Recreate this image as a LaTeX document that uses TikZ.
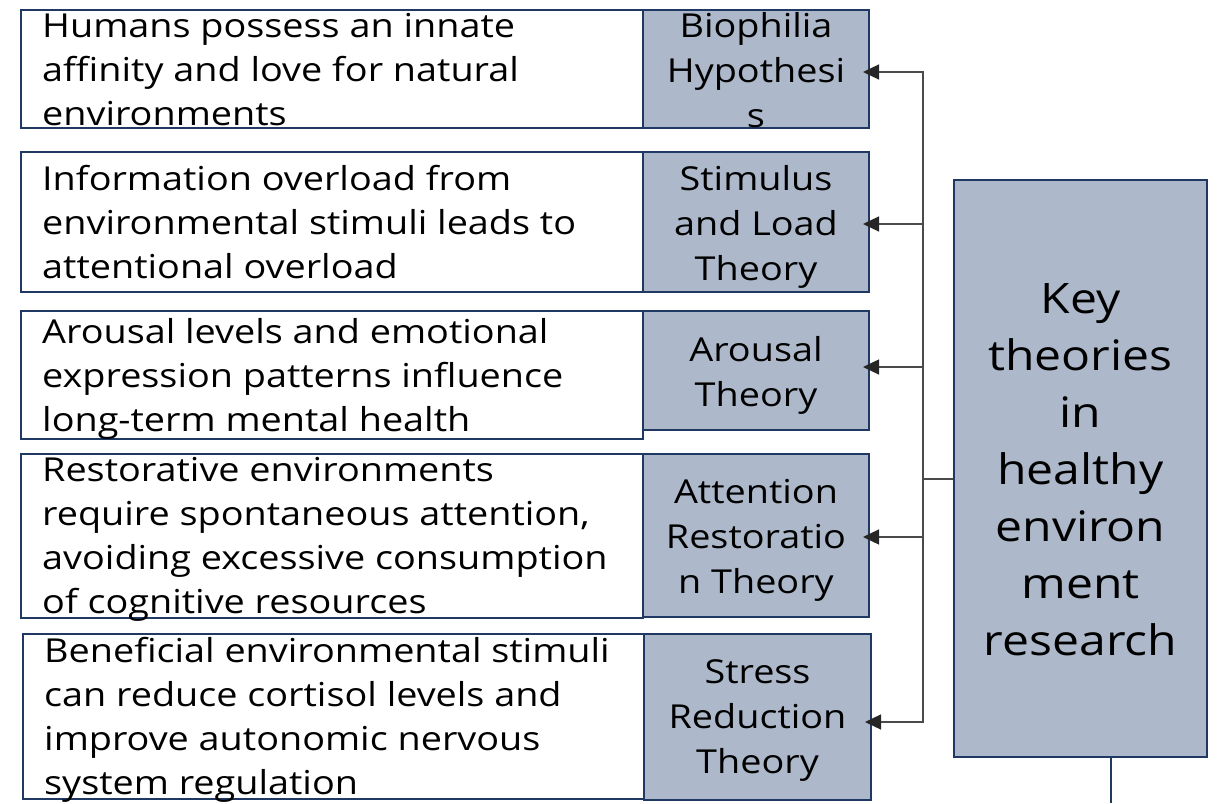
\documentclass[tikz,border=0pt]{standalone}
\usepackage{fontspec}
\setmainfont{Open Sans}[FakeStretch=1.145]
\usetikzlibrary{arrows.meta}
\definecolor{boxfill}{HTML}{ADB9CA}
\definecolor{boxline}{HTML}{1F3864}
\definecolor{linkgray}{HTML}{4A4A4A}
\definecolor{tipgray}{HTML}{262626}
\tikzset{
  descbox/.style={draw=boxline, line width=2pt, fill=white, inner sep=0pt},
  theorybox/.style={draw=boxline, line width=2pt, fill=boxfill, inner sep=0pt},
  desctext/.style={anchor=west, align=left, inner sep=0pt, font=\fontsize{33}{44}\selectfont},
  theorytext/.style={align=center, inner sep=0pt, font=\fontsize{33}{45}\selectfont},
  keytext/.style={align=center, inner sep=0pt, font=\fontsize{42}{57}\selectfont},
  trunk/.style={draw=linkgray, line width=1.3pt},
  link/.style={trunk, -{Triangle[length=16pt,width=15pt,color=tipgray]}, shorten >=-7pt},
}
\begin{document}
\begin{tikzpicture}[x=1pt,y=-1pt]
\useasboundingbox (0,0) rectangle (1217,803);

% description boxes
\node[descbox, minimum width=622pt, minimum height=118pt] (d1) at (332,69) {};
\node[descbox, minimum width=622pt, minimum height=140pt] (d2) at (332,222) {};
\node[descbox, minimum width=622pt, minimum height=128pt] (d3) at (332,375) {};
\node[descbox, minimum width=622pt, minimum height=164pt] (d4) at (332,536) {};
\node[descbox, minimum width=621pt, minimum height=165pt] (d5) at (333.5,716.5) {};

% theory boxes
\node[theorybox, minimum width=226pt, minimum height=118pt] (r1) at (756,69) {};
\node[theorybox, minimum width=226pt, minimum height=140pt] (r2) at (756,222) {};
\node[theorybox, minimum width=226pt, minimum height=119pt] (r3) at (756,370.5) {};
\node[theorybox, minimum width=226pt, minimum height=163pt] (r4) at (756,535.5) {};
\node[theorybox, minimum width=227pt, minimum height=166pt] (r5) at (757.5,717) {};

% central box
\node[theorybox, minimum width=253pt, minimum height=577pt] (k) at (1080.5,468.5) {};

% texts
\node[desctext] (t1) at (42,70) {Humans possess an innate\\affinity and love for natural\\environments};
\node[desctext] (t2) at (42,222) {Information overload from\\environmental stimuli leads to\\attentional overload};
\node[desctext] (t3) at (42,378.5) {Arousal levels and emotional\\expression patterns influence\\long-term mental health};
\node[desctext] (t4) at (42,539.5) {Restorative environments\\require spontaneous attention,\\avoiding excessive consumption\\of cognitive resources};
\node[desctext] (t5) at (44,719.5) {Beneficial environmental stimuli\\can reduce cortisol levels and\\improve autonomic nervous\\system regulation};

\node[theorytext] (s1) at ([yshift=-1.5pt]r1.center) {Biophilia\\Hypothesi\\s};
\node[theorytext] (s2) at ([yshift=-4.5pt]r2.center) {Stimulus\\and Load\\Theory};
\node[theorytext] (s3) at ([yshift=-4.5pt]r3.center) {Arousal\\Theory};
\node[theorytext] (s4) at ([yshift=-4.5pt]r4.center) {Attention\\Restoratio\\n Theory};
\node[theorytext] (s5) at ([yshift=-4pt]r5.center) {Stress\\Reduction\\Theory};

\node[keytext] (kt) at ([yshift=-1pt]k.center) {Key\\theories\\in\\healthy\\environ\\ment\\research};

% connectors
\coordinate (hub) at (923,479);
\coordinate (tail) at (1111,803);
\draw[trunk] (k.west |- hub) -- (hub);
\draw[link] (hub) |- ([yshift=-3pt]r1.east);
\draw[link] (hub) |- ([yshift=-2pt]r2.east);
\draw[link] (hub) |- ([yshift=3.5pt]r3.east);
\draw[link] (hub) |- ([yshift=-1.5pt]r4.east);
\draw[link] (hub) |- ([yshift=-5pt]r5.east);
\draw[draw=boxline, line width=2pt] (k.south -| tail) -- (tail);
\end{tikzpicture}
\end{document}
